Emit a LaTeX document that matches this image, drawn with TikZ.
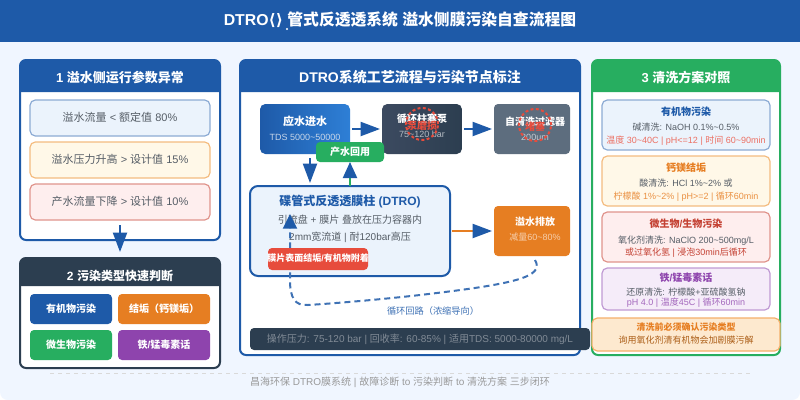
\documentclass[tikz,border=0pt]{standalone}
\usepackage{fontspec}
\usetikzlibrary{arrows.meta,calc}
\setmainfont{Liberation Sans}
\newfontfamily\latf{Liberation Sans}
\newfontfamily\cjkf{Noto Sans CJK SC}
\newfontfamily\djvf{DejaVu Sans}
% automatic switch between Latin and CJK fonts
\chardef\cjkcls=17
\newcount\cc
\cc="3000 \loop \XeTeXcharclass\cc=\cjkcls \ifnum\cc<"9FFF \advance\cc 1 \repeat
\cc="FF00 \loop \XeTeXcharclass\cc=\cjkcls \ifnum\cc<"FFEF \advance\cc 1 \repeat
\XeTeXinterchartoks 0 \cjkcls={\cjkf}
\XeTeXinterchartoks \cjkcls 0={\latf}
\XeTeXinterchartoks 4095 \cjkcls={\cjkf}
\XeTeXinterchartoks \cjkcls 4095={\latf}
\XeTeXinterchartokenstate=1
\newcommand\tl{{\char"7E\relax}}
\newcommand\fsz[1]{\pgfmathparse{#1*0.75}\fontsize{\pgfmathresult pt}{\pgfmathresult pt}\selectfont}
\definecolor{cblue}{HTML}{1E5AA8}
\definecolor{cblue2}{HTML}{2E7FD6}
\definecolor{cdark}{HTML}{2C3E50}
\definecolor{cdark2}{HTML}{3C4A60}
\definecolor{corange}{HTML}{E67E22}
\definecolor{cgreen}{HTML}{27AE60}
\definecolor{cpurple}{HTML}{8E44AD}
\definecolor{cred}{HTML}{E74C3C}
\definecolor{cslate}{HTML}{5D6D7E}
\definecolor{cbg}{HTML}{F0F6FF}
\definecolor{ctext}{HTML}{555D66}
\definecolor{fblue}{HTML}{EBF3FC}
\definecolor{bblue}{HTML}{8CABD4}
\definecolor{forange}{HTML}{FFF8E8}
\definecolor{borange}{HTML}{F4BC80}
\definecolor{fred}{HTML}{FEEEEE}
\definecolor{bred}{HTML}{E0948C}
\definecolor{fpurple}{HTML}{F5ECF9}
\definecolor{bpurple}{HTML}{C09AD4}
\definecolor{fwarn}{HTML}{FDE9CF}
\definecolor{bwarn}{HTML}{F5B06A}
\definecolor{cdash}{HTML}{3F72B5}
\tikzset{
  x=0.75pt,y=-0.75pt,
  base/.style={rectangle,inner sep=0pt,outer sep=0pt},
  panel/.style={base,draw=#1,line width=1.5pt,fill=white,rounded corners=4.5pt},
  soft/.style 2 args={base,draw=#2,fill=#1,line width=0.9pt,rounded corners=4pt},
  solid box/.style={base,fill=#1,rounded corners=3pt},
  flow/.style={draw=cblue,line width=1.5pt,-{Triangle[color=cblue,length=14.5pt,width=10.5pt,inset=0pt]}},
  flowg/.style={draw=cgreen,line width=1.5pt,-{Triangle[color=cblue,length=12pt,width=10.5pt,inset=0pt]}},
  flowo/.style={draw=corange,line width=1.5pt,-{Triangle[color=cblue,length=14.5pt,width=10.5pt,inset=0pt]}},
  loopflow/.style={draw=cdash,line width=1.5pt,dash pattern=on 4.5pt off 3pt,-{Triangle[color=cblue,length=11pt,width=10.5pt,inset=0pt]}},
  ring/.style={circle,draw=cred,line width=1.5pt,dash pattern=on 2.2pt off 1.8pt,inner sep=0pt,minimum size=24pt},
}
\newcounter{tn}
\newcommand\tx[5]{\stepcounter{tn}\node[inner sep=0pt,outer sep=0pt,text=#4,anchor=center] (t\thetn) at (#1,{#2+#3*0.09}) {\fsz{#3}\strut #5};}
\newcommand\bx[6]{\node[#6,minimum width={(#4-#2)*0.75pt},minimum height={(#5-#3)*0.75pt}] (#1) at ({(#2+#4)/2},{(#3+#5)/2}) {};}
\newcommand\hd[5]{\fill[#5] (#1,#4) {[rounded corners=4.5pt] -- (#1,#2) -- (#3,#2)} -- (#3,#4) -- cycle;}
\begin{document}
\begin{tikzpicture}
\useasboundingbox (0,0) rectangle (800,400);
\fill[white] (0,0) rectangle (800,400);
\fill[cbg,rounded corners=6pt] (0,0) rectangle (800,400);
\fill[cblue] (0,0) rectangle (800,42);
\tx{400}{19.5}{15.8}{white}{\bfseries DTRO{\djvf ⟨⟩} 管式反透透系统 溢水侧膜污染自查流程图}
\fill[white] (287,29) circle (1.1);

% panel 1
\bx{pa}{20}{60}{220}{240}{panel=cblue}
\hd{20}{60}{220}{92}{cblue}
\tx{120}{78}{13}{white}{\bfseries 1 溢水侧运行参数异常}
\bx{a1}{30}{100}{210}{136}{soft={fblue}{bblue}}
\bx{a2}{30}{142}{210}{178}{soft={forange}{borange}}
\bx{a3}{30}{184}{210}{220}{soft={fred}{bred}}
\tx{120}{117.5}{11}{ctext}{溢水流量 < 额定值 80\%}
\tx{120}{159.5}{11}{ctext}{溢水压力升高 > 设计值 15\%}
\tx{120}{201.5}{11}{ctext}{产水流量下降 > 设计值 10\%}

% panel 2
\bx{pb}{20}{258}{220}{368}{panel=cdark}
\hd{20}{258}{220}{286}{cdark}
\tx{120}{276}{12}{white}{\bfseries 2 污染类型快速判断}
\bx{b1}{30}{294}{112}{324}{solid box=cblue}
\bx{b2}{118}{294}{210}{324}{solid box=corange}
\bx{b3}{30}{330}{112}{360}{solid box=cgreen}
\bx{b4}{118}{330}{210}{360}{solid box=cpurple}
\tx{71}{308.5}{10}{white}{\bfseries 有机物污染}
\tx{164}{308.5}{10}{white}{\bfseries 结垢（钙镁垢）}
\tx{71}{344.5}{10}{white}{\bfseries 微生物污染}
\tx{164}{344.5}{10}{white}{\bfseries 铁/锰毒素话}
\draw[flow] ($(pa.south)+(0,-15)$) -- ($(pb.north)+(0,-6)$);

% centre panel
\bx{pc}{240}{60}{580}{355}{panel=cblue}
\hd{240}{60}{580}{92}{cblue}
\tx{410}{77.5}{14}{white}{\bfseries DTRO系统工艺流程与污染节点标注}

\node[base,left color=cblue,right color=cblue2,rounded corners=4pt,minimum width=67.5pt,minimum height=37.5pt] (inp) at (305,129) {};
\node[base,left color=cdark2,right color=cdark,rounded corners=4pt,minimum width=60pt,minimum height=37.5pt] (pump) at (422,129) {};
\bx{filt}{494}{104}{570}{154}{solid box=cslate}
\tx{305}{121.5}{11}{white}{\bfseries 应水进水}
\tx{305}{137.5}{9}{cblue!25!white}{TDS 5000\tl50000}
\tx{422}{118.5}{10}{white}{\bfseries 循环柱塞泵}
\tx{422}{134.5}{9}{white!65!cdark}{75\tl120 bar}
\tx{535}{121.5}{10}{white}{\bfseries 自清洗过滤器}
\tx{535}{137.5}{9}{white!65!cslate}{200um}
\node[ring] (r1) at (422,124) {};
\tx{422}{125.5}{10}{cred}{\bfseries 泵磨损}
\node[ring] (r2) at (535,125) {};
\tx{535}{126.5}{10}{cred}{\bfseries 堵塞}
\draw[flow] ($(inp.east)+(2,0)$) -- ($(pump.west)+(-2,0)$);
\draw[flow] ($(pump.east)+(2,0)$) -- ($(filt.west)+(-2,0)$);

\bx{dtro}{250}{186}{450}{276}{base,draw=cblue,line width=1.5pt,fill=fblue,rounded corners=6pt}
\tx{350}{201.5}{12}{cblue}{\bfseries 碟管式反透透膜柱 (DTRO)}
\tx{350}{219.5}{10}{ctext}{引流盘 + 膜片 叠放在压力容器内}
\tx{350}{236.5}{10}{ctext}{2mm宽流道 | 耐120bar高压}

\bx{over}{494}{206}{570}{256}{solid box=corange}
\tx{535}{221.5}{10}{white}{\bfseries 溢水排放}
\tx{535}{237.5}{9}{white!62!corange}{减量60\tl80\%}
\draw[flowo] ($(dtro.east)+(2,0)$) -- ($(over.west)+(-2,0)$);

\bx{back}{316}{142}{384}{162}{solid box=cgreen}
\tx{350}{151.5}{10}{white}{\bfseries 产水回用}
\draw[flow] ($(inp.south)+(5,4)$) -- ($(dtro.north)+(-40,-3)$);
\draw[flowg] (dtro.north) -- (back.south);

\draw[loopflow] ($(over.south)+(3,4)$) .. controls (545,277) and (515,284) .. (420,295)
  .. controls (385,299) and (340,303) .. (308,305)
  .. controls (295,306) and (290,298) .. (290,280) -- ($(dtro.south)+(-60,-62)$);

\bx{tag}{268}{248}{368}{270}{solid box=cred}
\tx{318}{258.5}{9}{white}{\bfseries 膜片表面结垢/有机物附着}
\tx{433}{311.5}{9.2}{cdash}{循环回路（浓缩导向）}

% right panel
\bx{pd}{592}{60}{780}{355}{panel=cgreen}
\hd{592}{60}{780}{92}{cgreen}
\tx{686}{77.5}{13}{white}{\bfseries 3 清洗方案对照}
\bx{d1}{602}{100}{770}{150}{soft={fblue}{bblue}}
\tx{686}{111.5}{10}{cblue}{\bfseries 有机物污染}
\tx{686}{127.5}{9}{ctext}{碱清洗: NaOH 0.1\%\tl0.5\%}
\tx{686}{140.5}{9}{cred!80!white}{温度 30\tl40C | pH<=12 | 时间 60\tl90min}
\bx{d2}{602}{156}{770}{206}{soft={forange}{borange}}
\tx{686}{167.5}{10}{corange}{\bfseries 钙镁结垢}
\tx{686}{183.5}{9}{ctext}{酸清洗: HCl 1\%\tl2\% 或}
\tx{686}{196.5}{9}{corange!85!white}{柠檬酸 1\%\tl2\% | pH>=2 | 循环60min}
\bx{d3}{602}{212}{770}{262}{soft={fred}{bred}}
\tx{686}{223.5}{10}{cred!85!black}{\bfseries 微生物/生物污染}
\tx{686}{240.5}{9}{ctext}{氧化剂清洗: NaClO 200\tl500mg/L}
\tx{686}{252.5}{9}{cred!85!black}{或过氧化氢 | 浸泡30min后循环}
\bx{d4}{602}{268}{770}{310}{soft={fpurple}{bpurple}}
\tx{686}{277.5}{10}{cpurple}{\bfseries 铁/锰毒素话}
\tx{686}{292.5}{9}{ctext}{还原清洗: 柠檬酸+亚硫酸氢钠}
\tx{686}{302.5}{9}{cpurple!80!white}{pH 4.0 | 温度45C | 循环60min}

\bx{warn}{592}{318}{780}{351}{soft={fwarn}{bwarn}}
\tx{686}{327.5}{9}{corange}{\bfseries 清洗前必须确认污染类型}
\tx{686}{340.5}{9}{corange!75!black}{询用氧化剂清有机物会加剧膜污解}

% operating bar
\bx{oper}{250}{328}{590}{350}{solid box=cdark}
\tx{420}{338.5}{10}{white!40!cdark}{操作压力: 75-120 bar | 回收率: 60-85\% | 适用TDS: 5000-80000 mg/L}

% footer
\coordinate (fa) at (50,373);
\coordinate (fb) at (750,373);
\draw[black!15,line width=0.75pt,dash pattern=on 3pt off 3pt] (fa) -- (fb);
\tx{400}{381.5}{10}{black!40}{昌海环保 DTRO膜系统 | 故障诊断 to 污染判断 to 清洗方案 三步闭环}
\end{tikzpicture}
\end{document}
